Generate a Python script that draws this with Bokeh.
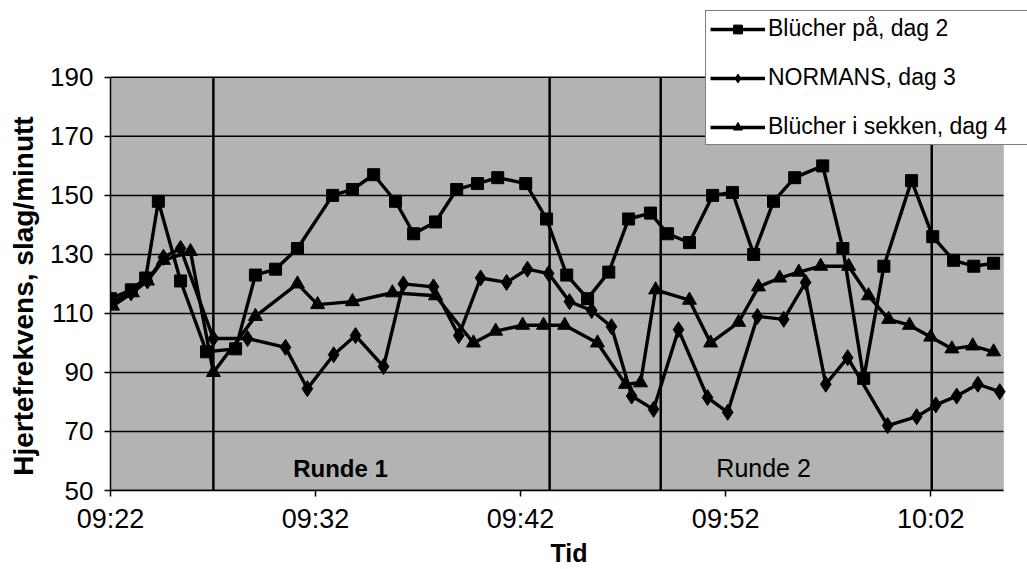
from bokeh.plotting import figure
from bokeh.models import (Range1d, FixedTicker, Legend, LegendItem, Label, BoxAnnotation)
from bokeh.embed import file_html
from bokeh.resources import INLINE

# ---------------- data ----------------
SERIES_NAMES = ["Blücher på, dag 2", "NORMANS, dag 3", "Blücher i sekken, dag 4"]

blucher_times = ["09:22:00", "09:23:01", "09:23:43", "09:24:20", "09:25:25", "09:26:41",
                 "09:28:06", "09:29:04", "09:30:03", "09:31:07", "09:32:50", "09:33:48",
                 "09:34:50", "09:35:54", "09:36:47", "09:37:51", "09:38:53", "09:39:54",
                 "09:40:53", "09:42:15", "09:43:16", "09:44:15", "09:45:16", "09:46:18",
                 "09:47:16", "09:48:20", "09:49:10", "09:50:14", "09:51:22", "09:52:20",
                 "09:53:22", "09:54:20", "09:55:22", "09:56:44", "09:57:43", "09:58:44",
                 "09:59:43", "10:01:04", "10:02:06", "10:03:07", "10:04:06", "10:05:04"]
blucher_hr = [115, 118, 122, 148, 121, 97,
              98, 123, 125, 132, 150, 152,
              157, 148, 137, 141, 152, 154,
              156, 154, 142, 123, 115, 124,
              142, 144, 137, 134, 150, 151,
              130, 148, 156, 160, 132, 88,
              126, 155, 136, 128, 126, 127]

normans_times = ["09:22:00", "09:23:00", "09:23:48", "09:24:35", "09:25:25", "09:27:01",
                 "09:28:41", "09:30:32", "09:31:36", "09:32:53", "09:33:57", "09:35:19",
                 "09:36:17", "09:37:45", "09:38:59", "09:40:03", "09:41:19", "09:42:20",
                 "09:43:22", "09:44:23", "09:45:28", "09:46:26", "09:47:25", "09:48:29",
                 "09:49:42", "09:51:07", "09:52:06", "09:53:33", "09:54:50", "09:55:54",
                 "09:56:53", "09:57:57", "09:59:54", "10:01:19", "10:02:15", "10:03:16",
                 "10:04:18", "10:05:22"]
normans_hr = [113.5, 117, 121, 129, 132, 101.5,
              101.5, 98.5, 84.5, 96, 102.5, 92,
              120, 119, 102.5, 122, 120.5, 125,
              123.5, 114, 111, 105.5, 82, 77.5,
              104.5, 81.5, 76.5, 109, 108, 120.5,
              86, 95, 72, 75, 79, 82,
              86, 83.5]

sekken_times = ["09:22:06", "09:23:04", "09:23:48", "09:24:35", "09:25:54", "09:27:01",
                "09:29:04", "09:31:07", "09:32:06", "09:33:48", "09:35:45", "09:37:51",
                "09:39:42", "09:40:47", "09:42:06", "09:43:07", "09:44:09", "09:45:45",
                "09:47:07", "09:47:51", "09:48:35", "09:50:14", "09:51:16", "09:52:38",
                "09:53:36", "09:54:38", "09:55:34", "09:56:38", "09:58:00", "09:58:58",
                "09:59:57", "10:00:58", "10:02:00", "10:03:02", "10:04:03", "10:05:04"]
sekken_hr = [112.5, 117, 121, 128, 131, 90,
             109, 120, 113, 114, 117, 116,
             100, 104, 106, 106, 106, 100,
             86, 86.5, 118, 114.5, 100, 107,
             119, 122, 124, 126, 126, 116,
             108, 106, 102, 98, 99, 97]

ROUND_LINES = ["09:27:01", "09:43:25", "09:48:50", "10:02:03"]
ROUND_LABELS = ["Runde 1", "Runde 2"]
ROUND_LABEL_TIMES = ["09:33:13", "09:53:51"]
ROUND_LABEL_LEVEL = 57.5

X_TICK_LABELS = ["09:22", "09:32", "09:42", "09:52", "10:02"]
Y_TICKS = [50, 70, 90, 110, 130, 150, 170, 190]
X_START, X_END = "09:22:00", "10:05:33"
Y_START, Y_END = 50, 190
X_TITLE = "Tid"
Y_TITLE = "Hjertefrekvens, slag/minutt"


def to_min(s):
    parts = [int(v) for v in s.split(":")]
    h, m = parts[0], parts[1]
    sec = parts[2] if len(parts) > 2 else 0
    return h * 60 + m + sec / 60.0


FONT = "Liberation Sans"

# gray plot area is 893 x 414 px (x 110..1003, y 77..491); the frame is
# extended right (24 px) and up (77 px) so the legend can overhang it
x0, x1 = to_min(X_START), to_min(X_END)
frame_x1 = x1 + (x1 - x0) * 24.0 / 893.0
frame_y1 = Y_END + (Y_END - Y_START) * 77.0 / 414.0

p = figure(width=1027, height=569, output_backend="svg", toolbar_location=None,
           x_range=Range1d(x0, frame_x1),
           y_range=Range1d(Y_START, frame_y1),
           min_border_left=110, min_border_right=0, min_border_top=0,
           min_border_bottom=78)

p.background_fill_color = "white"
p.border_fill_color = "white"
p.outline_line_color = None
p.xgrid.visible = False
p.ygrid.visible = False

p.add_layout(BoxAnnotation(left=x0, right=x1, bottom=Y_START, top=Y_END,
                           fill_color="#b3b3b3", fill_alpha=1.0,
                           line_color="#8a8a8a", line_width=1, level="underlay"))

# horizontal grid lines
p.segment(x0=[x0] * len(Y_TICKS), x1=[x1] * len(Y_TICKS), y0=Y_TICKS, y1=Y_TICKS,
          line_color="black", line_width=1.5)

# round separators
rl = [to_min(t) for t in ROUND_LINES]
p.segment(x0=rl, x1=rl, y0=[Y_START] * len(rl), y1=[Y_END] * len(rl),
          line_color="black", line_width=2.5)

# axes
p.xaxis.ticker = FixedTicker(ticks=[to_min(t) for t in X_TICK_LABELS])
p.xaxis.major_label_overrides = {to_min(t): t for t in X_TICK_LABELS}
p.yaxis.ticker = FixedTicker(ticks=Y_TICKS)
p.xaxis.bounds = (x0, x1)
p.yaxis.bounds = (Y_START, Y_END)
for ax in (p.xaxis[0], p.yaxis[0]):
    ax.axis_line_color = "black"
    ax.axis_line_width = 1.5
    ax.major_tick_line_color = "black"
    ax.major_tick_line_width = 1.5
    ax.major_tick_out = 6
    ax.major_tick_in = 0
    ax.minor_tick_line_color = None
    ax.major_label_text_font = FONT
    ax.major_label_text_color = "black"
    ax.axis_label_text_font = FONT
    ax.axis_label_text_font_style = "bold"
    ax.axis_label_text_color = "black"

p.xaxis.major_label_text_font_size = "27px"
p.yaxis.major_label_text_font_size = "26px"
p.xaxis.axis_label_text_font_size = "25px"
p.yaxis.axis_label_text_font_size = "28px"

p.xaxis.axis_label = X_TITLE
# the frame reaches above the gray area; trailing no-break spaces push the
# (bottom-to-top) title down so it is centred on the gray area
p.yaxis.axis_label = Y_TITLE + "\u00a0" * 13
p.xaxis.major_label_standoff = 7
p.yaxis.major_label_standoff = 11
p.xaxis.axis_label_standoff = 2
p.yaxis.axis_label_standoff = 8

for txt, t, style, fs in zip(ROUND_LABELS, ROUND_LABEL_TIMES,
                             ["bold", "normal"], ["24px", "25px"]):
    p.add_layout(Label(x=to_min(t), y=ROUND_LABEL_LEVEL, text=txt,
                       text_align="center", text_baseline="middle",
                       text_font=FONT, text_font_size=fs,
                       text_font_style=style, text_color="black"))

series = [
    (blucher_times, blucher_hr, "square", 12),
    (normans_times, normans_hr, "diamond", 16),
    (sekken_times, sekken_hr, "triangle", 14),
]

items = []
for name, (ts, hr, marker, size) in zip(SERIES_NAMES, series):
    xs = [to_min(t) for t in ts]
    ln = p.line(xs, hr, line_color="black", line_width=3.4, line_join="round")
    sc = p.scatter(xs, hr, marker=marker, size=size, fill_color="black",
                   line_color="black")
    items.append(LegendItem(label=name, renderers=[ln, sc]))

legend = Legend(items=items, location=(595, 345),
                label_text_font=FONT, label_text_font_size="23px",
                label_text_color="black", label_width=265,
                glyph_width=55, glyph_height=22, label_standoff=3,
                spacing=22, padding=4, margin=0,
                border_line_color="black", border_line_width=1.5,
                background_fill_color="white", background_fill_alpha=1.0)
p.add_layout(legend)

open("out.html", "w").write(file_html(p, INLINE))
